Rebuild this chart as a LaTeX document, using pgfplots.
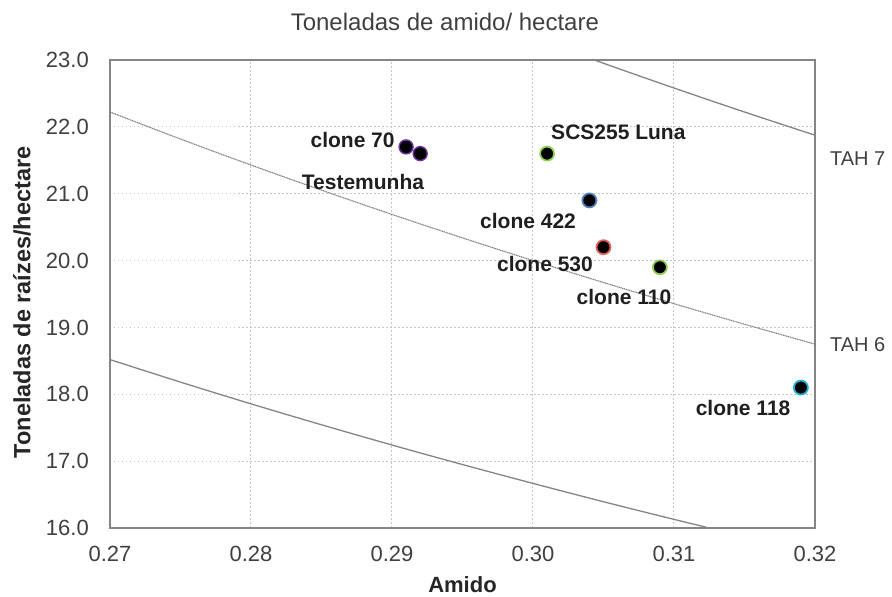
\documentclass[border=0pt]{standalone}
\usepackage{pgfplots}
\pgfplotsset{compat=1.18}
\usepackage{fontspec}
\setmainfont{Liberation Sans}
\definecolor{tick}{HTML}{404040}
\definecolor{frame}{HTML}{858585}
\definecolor{cpurple}{HTML}{7030A0}
\definecolor{cgreen}{HTML}{92D050}
\definecolor{cblue}{HTML}{4F81BD}
\definecolor{cred}{HTML}{E0605A}
\definecolor{ccyan}{HTML}{20B0D8}
\begin{document}
\begin{tikzpicture}[x=1pt,y=1pt]
\useasboundingbox (-110pt,-69pt) rectangle (782pt,528pt);
\begin{axis}[
  at={(0pt,0pt)}, anchor=south west,
  scale only axis, width=705pt, height=468pt,
  xmin=0.27, xmax=0.32, ymin=16, ymax=23,
  xtick={0.27,0.28,0.29,0.30,0.31,0.32},
  xticklabels={0.27,0.28,0.29,0.30,0.31,0.32},
  ytick={16,17,...,23},
  yticklabel style={/pgf/number format/fixed,/pgf/number format/fixed zerofill,/pgf/number format/precision=1, anchor=east, inner sep=0pt, xshift=-21pt},
  xticklabel style={anchor=center, inner sep=0pt, yshift=-26pt},
  /pgf/number format/assume math mode=true,
  ticklabel style={font=\fontsize{22}{26}\selectfont, text=tick},
  major tick length=0pt,
  axis line style={frame, line width=2pt},
  grid=major,
  grid style={dash pattern=on 1.5pt off 2.5pt, gray!45, line width=1pt},
  xlabel={\textbf{Amido}},
  ylabel={\textbf{Toneladas de raízes/hectare}},
  xlabel style={font=\fontsize{22}{26}\selectfont, text=black!85, at={(axis description cs:0.5,-0.122)}, anchor=center},
  ylabel style={font=\fontsize{23.5}{27}\selectfont, text=black!85, at={(axis description cs:-0.1248,0.482)}, anchor=center},
  title={Toneladas de amido/ hectare},
  title style={font=\fontsize{24}{28}\selectfont, text=tick, at={(axis description cs:0.475,1.0684)}, anchor=center},
  clip mode=individual,
]
% TAH 7
\addplot[frame, line width=1.3pt, smooth] coordinates {
(0.295,23.729) (0.300,23.333) (0.305,22.951) (0.310,22.581) (0.315,22.222) (0.320,21.875)};
% TAH 6
\addplot[gray, line width=1.1pt, dash pattern=on 1.2pt off 0.6pt, smooth] coordinates {
(0.270,22.222) (0.275,21.818) (0.280,21.429) (0.285,21.053) (0.290,20.690) (0.295,20.339)
(0.300,20.000) (0.305,19.672) (0.310,19.355) (0.315,19.048) (0.320,18.750)};
% TAH 5
\addplot[frame, line width=1.3pt, smooth] coordinates {
(0.270,18.519) (0.275,18.182) (0.280,17.857) (0.285,17.544) (0.290,17.241) (0.295,16.949)
(0.300,16.667) (0.305,16.393) (0.310,16.129) (0.315,15.873)};
% points
\addplot[only marks, mark=*, mark size=7pt, mark options={fill=black, draw=cpurple, line width=1.4pt}] coordinates {(0.291,21.7) (0.292,21.6)};
\addplot[only marks, mark=*, mark size=7pt, mark options={fill=black, draw=cgreen, line width=1.8pt}] coordinates {(0.301,21.6) (0.309,19.9)};
\addplot[only marks, mark=*, mark size=7pt, mark options={fill=black, draw=cblue, line width=1.8pt}] coordinates {(0.304,20.9)};
\addplot[only marks, mark=*, mark size=7pt, mark options={fill=black, draw=cred, line width=1.8pt}] coordinates {(0.305,20.2)};
\addplot[only marks, mark=*, mark size=7pt, mark options={fill=black, draw=ccyan, line width=1.8pt}] coordinates {(0.319,18.1)};
% labels
\begin{scope}[every node/.style={font=\fontsize{21}{25}\selectfont\bfseries, text=black!88, inner sep=0pt}]
\node[anchor=east] at (axis cs:0.2902,21.80) {clone 70};
\node at (axis cs:0.28794,21.18) {Testemunha};
\node[anchor=west] at (axis cs:0.30128,21.92) {SCS255 Luna};
\node at (axis cs:0.29965,20.59) {clone 422};
\node at (axis cs:0.30085,19.95) {clone 530};
\node at (axis cs:0.30645,19.46) {clone 110};
\node at (axis cs:0.3149,17.80) {clone 118};
\end{scope}
\begin{scope}[every node/.style={font=\fontsize{20}{24}\selectfont, text=tick, anchor=west, inner sep=0pt}]
\node at (axis cs:0.32106,21.53) {TAH 7};
\node at (axis cs:0.32106,18.74) {TAH 6};
\end{scope}
\end{axis}
\end{tikzpicture}
\end{document}
